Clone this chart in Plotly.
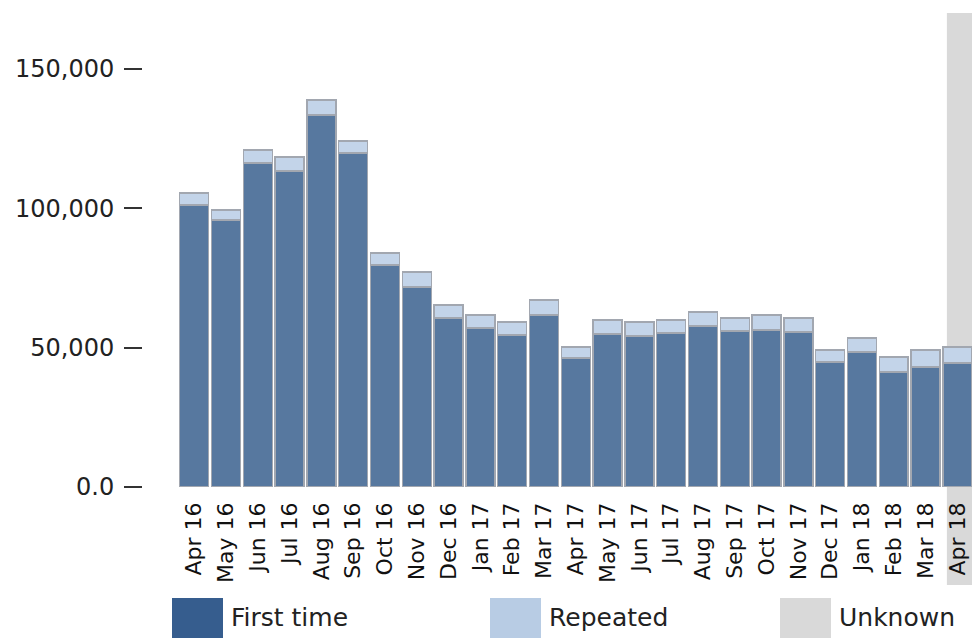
import plotly.graph_objects as go

months = ["Apr 16", "May 16", "Jun 16", "Jul 16", "Aug 16", "Sep 16", "Oct 16", "Nov 16",
          "Dec 16", "Jan 17", "Feb 17", "Mar 17", "Apr 17", "May 17", "Jun 17", "Jul 17",
          "Aug 17", "Sep 17", "Oct 17", "Nov 17", "Dec 17", "Jan 18", "Feb 18", "Mar 18", "Apr 18"]

first_time = [101200, 95800, 116300, 113400, 133500, 119900, 79700, 71800,
              60700, 57100, 54600, 61700, 46300, 54900, 54200, 55300,
              57800, 56000, 56300, 55600, 44900, 48500, 41300, 43100, 44500]

repeated = [4300, 3600, 4600, 5000, 5400, 4300, 4300, 5400,
            4600, 4600, 4600, 5400, 3900, 5000, 5000, 4600,
            5000, 4600, 5400, 5000, 4300, 5000, 5400, 6100, 5700]

series_names = ["First time", "Repeated", "Unknown"]
legend_colors = ["#365d8e", "#b8cce4", "#d9d9d9"]
bar_colors = ["#57789f", "#c3d4e9"]

y_tickvals = [0, 50000, 100000, 150000]
y_ticktext = ["0.0", "50,000", "100,000", "150,000"]

unknown_from = "Apr 18"

FONT = "DejaVu Sans"
W, H = 972, 638
ML, MR, MT, MB = 143, 0, 13, 151
PW, PH = W - ML - MR, H - MT - MB

fig = go.Figure()
fig.add_trace(go.Bar(x=list(range(len(months))), y=first_time, name=series_names[0],
                     marker=dict(color=bar_colors[0], line=dict(color="#a2a7b0", width=1.5))))
fig.add_trace(go.Bar(x=list(range(len(months))), y=repeated, name=series_names[1],
                     marker=dict(color=bar_colors[1], line=dict(color="#a2a7b0", width=1.5))))

# unknown band
idx = months.index(unknown_from)
fig.add_shape(type="rect", xref="x", yref="paper", x0=idx - 0.33, x1=idx + 2,
              y0=-0.207, y1=1, fillcolor=legend_colors[2], line=dict(width=0), layer="below")

# custom legend
def px2paper_x(px):
    return (px - ML) / PW

def px2paper_y(py):
    return (H - MB - py) / PH

sw_x = [172, 490, 780]
for i, name in enumerate(series_names):
    fig.add_shape(type="rect", xref="paper", yref="paper",
                  x0=px2paper_x(sw_x[i]), x1=px2paper_x(sw_x[i] + 51),
                  y0=px2paper_y(650), y1=px2paper_y(598),
                  fillcolor=legend_colors[i], line=dict(width=0))
    fig.add_annotation(xref="paper", yref="paper", x=px2paper_x(sw_x[i] + 57),
                       y=px2paper_y(617), text=name, showarrow=False,
                       xanchor="left", yanchor="middle",
                       font=dict(family=FONT, size=25, color="#222"))

fig.update_layout(
    width=W, height=H,
    margin=dict(l=ML, r=MR, t=MT, b=MB),
    barmode="stack", bargap=0.09,
    plot_bgcolor="white", paper_bgcolor="white",
    showlegend=False,
    font=dict(family=FONT, color="#222"),
)
fig.update_xaxes(range=[-1.61, 24.46], tickvals=list(range(len(months))), ticktext=months,
                 tickangle=-90, tickfont=dict(family=FONT, size=22, color="#111"),
                 showgrid=False, zeroline=False, showline=False, ticks="",
                 ticklabelstandoff=10)
fig.update_yaxes(range=[0, 170096], tickvals=y_tickvals, ticktext=y_ticktext,
                 tickfont=dict(family=FONT, size=24, color="#222"),
                 showgrid=False, zeroline=False, showline=False,
                 ticks="outside", ticklen=18, tickwidth=2, tickcolor="#333",
                 ticklabelstandoff=5)

fig.write_html("out.html", config={"displayModeBar": False},
               post_script="document.body.style.margin='0';document.body.style.overflow='hidden';")
